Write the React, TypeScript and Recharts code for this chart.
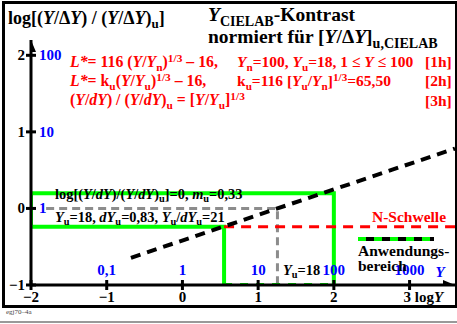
import React from "react";
import {
  ComposedChart,
  Line,
  Scatter,
  XAxis,
  YAxis,
} from "recharts";

// axis ticks: log values and the Y values they stand for
const xTicks = [-2, -1, 0, 1, 2, 3];
const xTickLabels = ["−2", "−1", "0", "1", "2", "3"];
const xValueLabels = ["", "0,1", "1", "10", "100", "1000"];
const yTicks = [-1, 0, 1, 2];
const yTickLabels = ["−1", "0", "1", "2"];
const yValueLabels = ["", "1", "10", "100"];

// log Y of the usage area and the reference Y_u = 18
const logYu = 1.255;
const logYmin = 0.55;
const logYmax = 2;

// black dashed contrast line, slope 1/3
const contrastLine = [
  { x: -0.68, y: -0.645 },
  { x: 3.6, y: 0.782 },
];
// green outline of the usage area
const bandOutline = [
  { x: -2, y: -0.24 },
  { x: -2, y: 0.2 },
  { x: logYmax, y: 0.2 },
  { x: logYmax, y: -1 },
];
const innerOutline = [
  { x: -2, y: -0.24 },
  { x: logYmin, y: -0.24 },
  { x: logYmin, y: -1 },
];
const axisGreen = [
  { x: logYmin, y: -1 },
  { x: logYmax, y: -1 },
];
// N-Schwelle
const threshold = [
  { x: logYmin, y: -0.24 },
  { x: 3.6, y: -0.24 },
];
// grey reference at Y_u
const grayRef = [
  { x: -1.8, y: 0 },
  { x: logYu, y: 0 },
  { x: logYu, y: -1 },
];
const xArrow = [{ x: 3.6, y: -1 }];
const yArrow = [{ x: -2, y: 2.2 }];

const serif = '"Liberation Serif", "Times New Roman", serif';

const Sub = ({ children }: { children: React.ReactNode }) => (
  <span style={{ fontSize: "0.72em", position: "relative", top: "0.32em" }}>
    {children}
  </span>
);
const Sup = ({ children }: { children: React.ReactNode }) => (
  <span style={{ fontSize: "0.72em", position: "relative", top: "-0.45em" }}>
    {children}
  </span>
);
const I = ({ children }: { children: React.ReactNode }) => <i>{children}</i>;

const Txt = ({
  left,
  top,
  size,
  color = "#000",
  children,
}: {
  left: number;
  top: number;
  size: number;
  color?: string;
  children: React.ReactNode;
}) => (
  <div
    style={{
      position: "absolute",
      left,
      top: top - size / 2,
      fontSize: size,
      lineHeight: `${size}px`,
      fontFamily: serif,
      fontWeight: "bold",
      color,
      whiteSpace: "nowrap",
    }}
  >
    {children}
  </div>
);

const XTick = (props: any) => {
  const { x, y, payload } = props;
  const i = xTicks.indexOf(payload.value);
  return (
    <g>
      <line x1={x} x2={x} y1={y - 5} y2={y + 5} stroke="#000" strokeWidth={3} />
      <text
        x={i === 5 ? x - 6 : x}
        y={y + 17}
        textAnchor={i === 5 ? "start" : "middle"}
        fontFamily={serif}
        fontWeight="bold"
        fontSize={15}
        fill="#000"
      >
        {xTickLabels[i]}
        {i === 5 && (
          <>
            {" log"}
            <tspan fontStyle="italic">Y</tspan>
          </>
        )}
      </text>
      {xValueLabels[i] && (
        <text
          x={x}
          y={y - 10}
          textAnchor="middle"
          fontFamily={serif}
          fontWeight="bold"
          fontSize={15}
          fill="#0000ff"
        >
          {xValueLabels[i]}
        </text>
      )}
      {i === 5 && (
        <text
          x={x + 26}
          y={y - 8}
          fontFamily={serif}
          fontWeight="bold"
          fontStyle="italic"
          fontSize={15}
          fill="#0000ff"
        >
          Y
        </text>
      )}
    </g>
  );
};

const YTick = (props: any) => {
  const { x, y, payload } = props;
  const i = yTicks.indexOf(payload.value);
  return (
    <g>
      <line x1={x - 5} x2={x + 5} y1={y} y2={y} stroke="#000" strokeWidth={3} />
      <text
        x={x - 6}
        y={y + 5}
        textAnchor="end"
        fontFamily={serif}
        fontWeight="bold"
        fontSize={15}
        fill="#000"
      >
        {yTickLabels[i]}
      </text>
      {yValueLabels[i] && (
        <text
          x={x + 8}
          y={y + 5}
          fontFamily={serif}
          fontWeight="bold"
          fontSize={15}
          fill="#0000ff"
        >
          {yValueLabels[i]}
        </text>
      )}
    </g>
  );
};

const ArrowRight = (props: any) => {
  const { cx, cy } = props;
  return (
    <polygon
      points={`${cx},${cy} ${cx - 12},${cy - 5} ${cx - 12},${cy + 5}`}
      fill="#000"
    />
  );
};
const ArrowUp = (props: any) => {
  const { cx, cy } = props;
  return (
    <polygon
      points={`${cx},${cy} ${cx - 5},${cy + 12} ${cx + 5},${cy + 12}`}
      fill="#000"
    />
  );
};

export default function App() {
  return (
    <div
      style={{
        position: "absolute",
        left: 0,
        top: 0,
        width: 457,
        height: 324,
        background: "#fff",
        overflow: "hidden",
      }}
    >
      <ComposedChart
        width={457}
        height={324}
        margin={{ top: 40, right: 2, bottom: 0, left: 0 }}
      >
        <XAxis
          type="number"
          dataKey="x"
          domain={[-2, 3.6]}
          ticks={xTicks}
          allowDataOverflow
          height={39}
          tickSize={0}
          tickMargin={0}
          tickLine={false}
          axisLine={{ stroke: "#000", strokeWidth: 3 }}
          tick={<XTick />}
          interval={0}
        />
        <YAxis
          type="number"
          dataKey="y"
          domain={[-1, 2.2]}
          ticks={yTicks}
          allowDataOverflow
          width={31}
          tickSize={0}
          tickMargin={0}
          tickLine={false}
          axisLine={{ stroke: "#000", strokeWidth: 3 }}
          tick={<YTick />}
          interval={0}
        />
        <Line
          data={grayRef}
          dataKey="y"
          stroke="#8c8c8c"
          strokeWidth={3}
          strokeDasharray="8 5"
          dot={false}
          isAnimationActive={false}
        />
        <Line
          data={bandOutline}
          dataKey="y"
          stroke="#00ff00"
          strokeWidth={4}
          dot={false}
          isAnimationActive={false}
        />
        <Line
          data={innerOutline}
          dataKey="y"
          stroke="#00ff00"
          strokeWidth={4}
          dot={false}
          isAnimationActive={false}
        />
        <Line
          data={axisGreen}
          dataKey="y"
          stroke="#00ff00"
          strokeWidth={4}
          strokeDasharray="8 8"
          dot={false}
          isAnimationActive={false}
        />
        <Line
          data={threshold}
          dataKey="y"
          stroke="#ff0000"
          strokeWidth={3}
          strokeDasharray="10 7"
          dot={false}
          isAnimationActive={false}
        />
        <Line
          data={contrastLine}
          dataKey="y"
          stroke="#000"
          strokeWidth={4}
          strokeDasharray="10 7"
          dot={false}
          isAnimationActive={false}
        />
        <Scatter data={xArrow} shape={<ArrowRight />} isAnimationActive={false} />
        <Scatter data={yArrow} shape={<ArrowUp />} isAnimationActive={false} />
      </ComposedChart>

      {/* frame */}
      <div
        style={{
          position: "absolute",
          left: 2,
          top: 1,
          width: 450,
          height: 301,
          border: "3px solid #000",
          pointerEvents: "none",
        }}
      />
      <div
        style={{
          position: "absolute",
          left: 0,
          top: 321,
          width: 457,
          height: 2,
          background: "#999",
        }}
      />
      <div
        style={{
          position: "absolute",
          left: 6,
          top: 308,
          fontSize: 7,
          fontFamily: serif,
          color: "#444",
        }}
      >
        egj70–4a
      </div>

      {/* titles */}
      <Txt left={8} top={18} size={18}>
        log[(<I>Y</I>/Δ<I>Y</I>) / (<I>Y</I>/Δ<I>Y</I>)<Sub>u</Sub>]
      </Txt>
      <Txt left={208} top={15} size={19.5}>
        <I>Y</I>
        <Sub>CIELAB</Sub>-Kontrast
      </Txt>
      <Txt left={208} top={37} size={19.5}>
        normiert für [<I>Y</I>/Δ<I>Y</I>]<Sub>u,CIELAB</Sub>
      </Txt>

      {/* formulas */}
      <Txt left={70} top={62} size={15.8} color="#ff0000">
        <I>L*</I>= 116 (<I>Y</I>/<I>Y</I>
        <Sub>n</Sub>)<Sup>1/3</Sup> – 16,
      </Txt>
      <Txt left={237} top={62} size={15.5} color="#ff0000">
        <I>Y</I>
        <Sub>n</Sub>=100, <I>Y</I>
        <Sub>u</Sub>=18, 1 ≤ <I>Y</I> ≤ 100
      </Txt>
      <Txt left={425} top={62} size={15.5} color="#ff0000">
        [1h]
      </Txt>
      <Txt left={70} top={81} size={15.8} color="#ff0000">
        <I>L*</I>= k<Sub>u</Sub>(<I>Y</I>/<I>Y</I>
        <Sub>u</Sub>)<Sup>1/3</Sup> – 16,
      </Txt>
      <Txt left={237} top={81} size={15.5} color="#ff0000">
        k<Sub>u</Sub>=116 [<I>Y</I>
        <Sub>u</Sub>/<I>Y</I>
        <Sub>n</Sub>]<Sup>1/3</Sup>=65,50
      </Txt>
      <Txt left={425} top={81} size={15.5} color="#ff0000">
        [2h]
      </Txt>
      <Txt left={70} top={100} size={15.8} color="#ff0000">
        (<I>Y</I>/<I>dY</I>) / (<I>Y</I>/<I>dY</I>)<Sub>u</Sub> = [<I>Y</I>/
        <I>Y</I>
        <Sub>u</Sub>]<Sup>1/3</Sup>
      </Txt>
      <Txt left={425} top={101} size={15.5} color="#ff0000">
        [3h]
      </Txt>

      {/* annotations in the plot */}
      <Txt left={55} top={194} size={14.4}>
        log[(<I>Y</I>/<I>dY</I>)/(<I>Y</I>/<I>dY</I>)<Sub>u</Sub>]=0, <I>m</I>
        <Sub>u</Sub>=0,33
      </Txt>
      <Txt left={55} top={217} size={14.4}>
        <I>Y</I>
        <Sub>u</Sub>=18, <I>dY</I>
        <Sub>u</Sub>=0,83, <I>Y</I>
        <Sub>u</Sub>/<I>dY</I>
        <Sub>u</Sub>=21
      </Txt>
      <Txt left={283} top={270} size={14.4}>
        <I>Y</I>
        <Sub>u</Sub>=18
      </Txt>

      {/* legend */}
      <Txt left={372} top={217} size={15.5} color="#ff0000">
        N-Schwelle
      </Txt>
      <svg
        style={{ position: "absolute", left: 356, top: 234 }}
        width={80}
        height={10}
      >
        <line x1={2} x2={78} y1={5} y2={5} stroke="#000" strokeWidth={4} />
        <line
          x1={2}
          x2={78}
          y1={5}
          y2={5}
          stroke="#00ff00"
          strokeWidth={4}
          strokeDasharray="8 8"
        />
      </svg>
      <Txt left={358} top={251} size={15.5}>
        Anwendungs-
      </Txt>
      <Txt left={358} top={266} size={15.5}>
        bereich
      </Txt>
    </div>
  );
}
